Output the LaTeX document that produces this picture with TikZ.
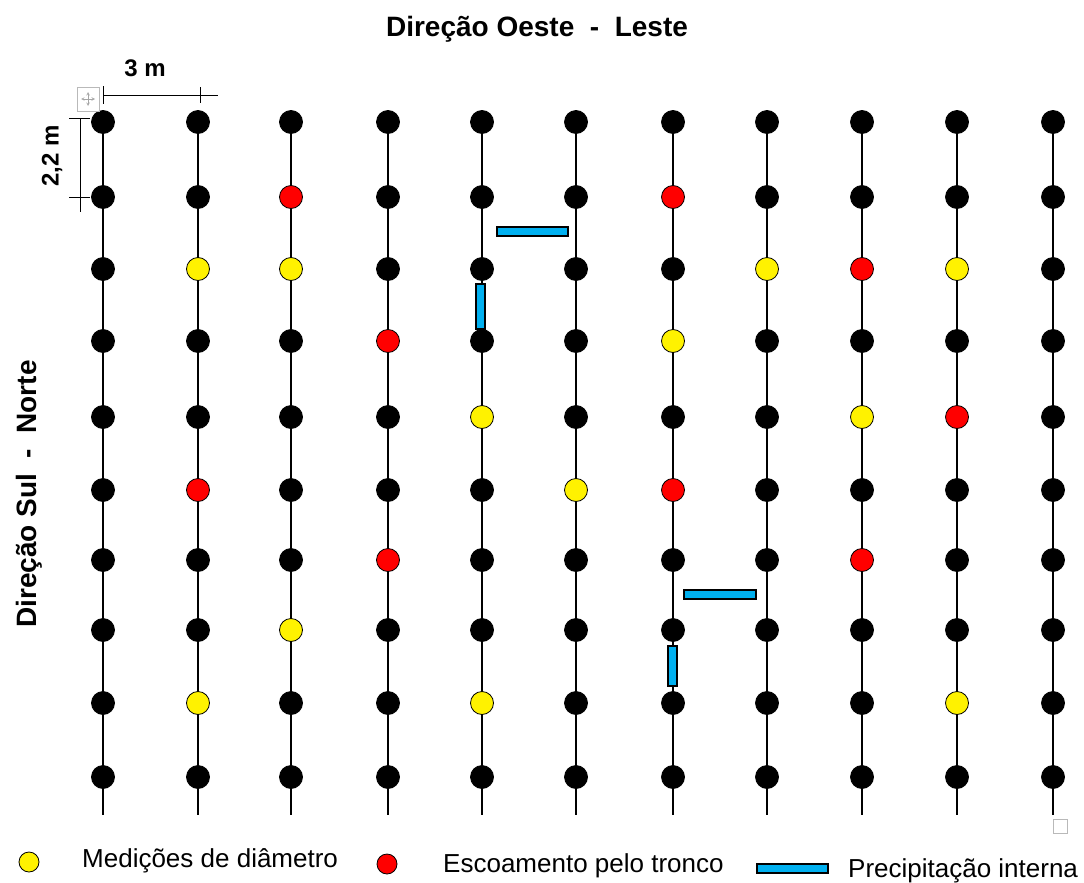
\documentclass[tikz,border=0pt]{standalone}
\usepackage{fontspec}
\setmainfont{Liberation Sans}
\definecolor{gaugeblue}{HTML}{00B0F0}

\begin{document}
\begin{tikzpicture}[x=1pt, y=-1pt,
    tree/.style={circle, draw=black, fill=black, line width=0.8pt, inner sep=0pt, minimum size=23pt},
    diam/.style={tree, fill=yellow},
    flow/.style={tree, fill=red},
    gauge/.style={draw=black, line width=1.2pt, fill=gaugeblue},
    dimline/.style={line width=1pt},
    handle/.style={draw=gray!55, line width=1pt},
    heading/.style={font=\fontsize{28}{32}\selectfont\bfseries, inner sep=0pt},
    dimtext/.style={font=\fontsize{24}{28}\selectfont\bfseries, inner sep=0pt},
    keytext/.style={font=\fontsize{26}{30}\selectfont, inner sep=0pt, anchor=base west}]

    \useasboundingbox (0,0) rectangle (1084,883);

    % Titles
    \node[heading, anchor=base] (title) at (537,37) {Direção Oeste\ \ -\ \ Leste};
    \node[heading, anchor=base, rotate=90] (side) at (36,494) {Direção Sul\ \ -\ \ Norte};

    % Marked trees
    \foreach \cn/\rn in {2/3,3/3,8/3,10/3,7/4,5/5,9/5,6/6,3/8,2/9,5/9,10/9}
        {\expandafter\xdef\csname kind\cn-\rn\endcsname{diam}}
    \foreach \cn/\rn in {3/2,7/2,9/3,4/4,10/5,2/6,7/6,4/7,9/7}
        {\expandafter\xdef\csname kind\cn-\rn\endcsname{flow}}

    % Grid of trees
    \foreach \x [count=\cn] in {103,198,291,388,482,576,673,767,862,957,1053} {
        \draw[line width=1.5pt] (\x,120) -- (\x,815);
        \foreach \y [count=\rn] in {122,197,269,341,417,490,560,630,703,777} {
            \ifcsname kind\cn-\rn\endcsname
                \edef\kind{\csname kind\cn-\rn\endcsname}%
            \else
                \def\kind{tree}%
            \fi
            \node[\kind] (t\cn-\rn) at (\x,\y) {};
        }
    }

    % Gauges
    \draw[gauge] (497,227) rectangle (568,236);
    \draw[gauge] (476,284) rectangle (485,329);
    \draw[gauge] (684,590) rectangle (756,599);
    \draw[gauge] (668,646) rectangle (677,686);

    % Spacing
    \draw[dimline] (103,95) -- (218,95);
    \draw[dimline] (103,86) -- (103,104);
    \draw[dimline] (200,87) -- (200,103);
    \node[dimtext] (width) at (145,68) {3 m};

    \draw[dimline] (80,118) -- (80,212);
    \draw[dimline] (69,118) -- (90,118);
    \draw[dimline] (69,197) -- (90,197);
    \node[dimtext, rotate=90] (height) at (52,156) {2,2 m};

    % Handles
    \draw[handle] (77,87) rectangle (99,111);
    \draw[<->, >=stealth, gray!70, line width=0.6pt] (81,99) -- (95,99);
    \draw[<->, >=stealth, gray!70, line width=0.6pt] (88,92) -- (88,106);
    \draw[handle] (1053,819) rectangle (1067,833);

    % Legend
    \node[diam, minimum size=20pt] (keyd) at (29,862) {};
    \node[keytext] (keydtext) at (82,867) {Medições de diâmetro};
    \node[flow, minimum size=20pt] (keyf) at (387,864) {};
    \node[keytext] (keyftext) at (443,872) {Escoamento pelo tronco};
    \draw[gauge] (757,864) rectangle (828,873);
    \node[keytext] (keyptext) at (848,877) {Precipitação interna};
\end{tikzpicture}
\end{document}
